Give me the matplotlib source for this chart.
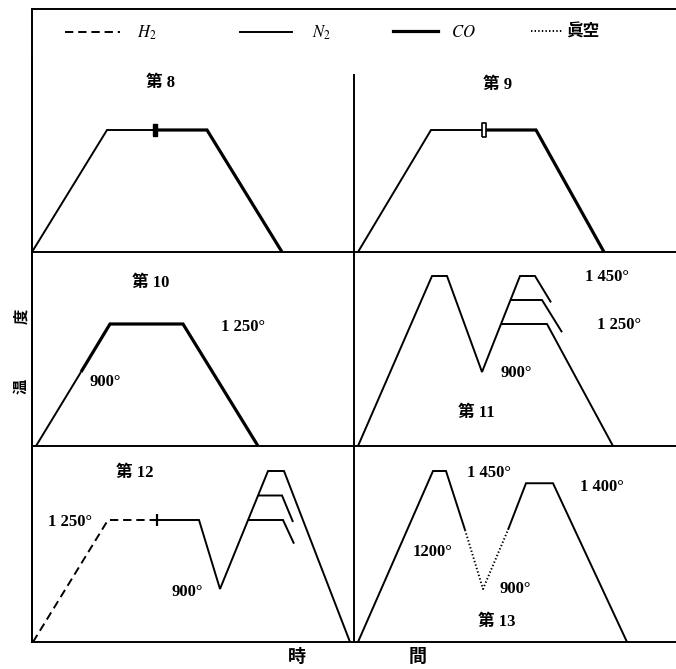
import numpy as np
import matplotlib
matplotlib.use("Agg")
import matplotlib.pyplot as plt
from matplotlib.lines import Line2D

plt.rcParams["font.family"] = ["Liberation Serif", "Noto Sans CJK JP"]
plt.rcParams["mathtext.fontset"] = "stix"
plt.rcParams["lines.scale_dashes"] = False

# heating schedules: time (arbitrary units) and temperature (deg C)
p8_n2_t = [0.0, 7.5, 12.3]
p8_n2_T = [20, 1250, 1250]
p8_co_t = [12.3, 17.5, 25.0]
p8_co_T = [1250, 1250, 20]

p9_n2_t = [0.4, 7.7, 13.0]
p9_n2_T = [20, 1250, 1250]
p9_co_t = [13.0, 18.2, 25.0]
p9_co_T = [1250, 1250, 20]

p10_n2_t = [0.4, 4.9]
p10_n2_T = [20, 900]
p10_co_t = [4.9, 7.8, 15.1, 22.6]
p10_co_T = [900, 1250, 1250, 20]

p11_main_t = [0.4, 7.8, 9.3, 12.8, 16.6, 18.1, 19.7]
p11_main_T = [20, 1450, 1450, 900, 1450, 1450, 1340]
p11_b1_t = [15.65, 18.8, 20.8]
p11_b1_T = [1350, 1350, 1190]
p11_b2_t = [14.7, 19.3, 25.9]
p11_b2_T = [1250, 1250, 20]

p12_h2_t = [0.1, 7.6, 12.5]
p12_h2_T = [20, 1250, 1250]
p12_n2_t = [12.5, 16.7, 18.8, 23.6, 25.2, 31.8]
p12_n2_T = [1250, 1250, 900, 1450, 1450, 20]
p12_b1_t = [22.6, 25.0, 26.1]
p12_b1_T = [1350, 1350, 1240]
p12_b2_t = [21.6, 25.1, 26.2]
p12_b2_T = [1250, 1250, 1130]

p13_a_t = [0.4, 7.9, 9.2, 11.1]
p13_a_T = [20, 1450, 1450, 1200]
p13_vac_t = [11.1, 12.9, 15.4]
p13_vac_T = [1200, 900, 1200]
p13_b_t = [15.4, 17.2, 19.9, 27.3]
p13_b_T = [1200, 1400, 1400, 20]

# schematic (non-linear) temperature axes
knots_T = [-1000, 20, 900, 1250, 1450, 2500]
knots_top = [-100, 0, 74, 122, 170, 422]
knots_bot = [-100, 0, 53, 122, 171, 428]

W, H = 676, 669
fig = plt.figure(figsize=(W / 100, H / 100), dpi=100)


def box(x0, y0, x1, y1):
    return [x0 / W, 1 - y1 / H, (x1 - x0) / W, (y1 - y0) / H]


def panel(x0, y0, x1, y1, knots_h):
    ax = fig.add_axes(box(x0, y0, x1, y1))
    fwd = lambda T: np.interp(T, knots_T, knots_h)
    inv = lambda h: np.interp(h, knots_h, knots_T)
    ax.set_yscale("function", functions=(fwd, inv))
    ax.set_xlim(0, (x1 - x0) / 10)
    ax.set_ylim(20, inv(y1 - y0))
    ax.set_xticks([])
    ax.set_yticks([])
    ax.yaxis.set_minor_locator(matplotlib.ticker.NullLocator())
    ax.patch.set_alpha(0)
    for s in ("top", "right"):
        ax.spines[s].set_visible(False)
    for s in ("left", "bottom"):
        ax.spines[s].set_linewidth(1.4)
    return ax, inv


thin, thick = 1.4, 2.3
dash = (0, (6, 3.5))
dot = (0, (1, 1.6))
kw = dict(color="black", clip_on=False, solid_joinstyle="miter", solid_capstyle="butt")

# outer frame
frame = fig.add_axes(box(32, 9, 690, 642))
frame.set_xticks([])
frame.set_yticks([])
frame.patch.set_alpha(0)
for s in ("right", "bottom"):
    frame.spines[s].set_visible(False)
for s in ("top", "left"):
    frame.spines[s].set_linewidth(1.4)

ax8, _ = panel(32, 58, 352, 252, knots_top)
ax9, inv9 = panel(354, 58, 684, 252, knots_top)
ax10, _ = panel(32, 252, 352, 446, knots_top)
ax11, _ = panel(354, 252, 684, 446, knots_top)
ax12, _ = panel(32, 446, 352, 642, knots_bot)
ax13, _ = panel(354, 446, 684, 642, knots_bot)
ax9.spines["left"].set_bounds(20, inv9(177))

bar = [(-1, -3), (1, -3), (1, 3), (-1, 3), (-1, -3)]

ax8.plot(p8_n2_t, p8_n2_T, lw=thin, **kw)
ax8.plot(p8_co_t, p8_co_T, lw=thick, **kw)
ax8.plot(p8_co_t[:1], p8_co_T[:1], marker=bar, ms=9, mfc="black", mec="black", mew=1, **kw)

ax9.plot(p9_n2_t, p9_n2_T, lw=thin, **kw)
ax9.plot(p9_co_t, p9_co_T, lw=thick, **kw)
ax9.plot(p9_co_t[:1], p9_co_T[:1], marker=bar, ms=10, mfc="white", mec="black", mew=1.2, **kw)

ax10.plot(p10_n2_t, p10_n2_T, lw=thin, **kw)
ax10.plot(p10_co_t, p10_co_T, lw=thick, **kw)

for t, T in ((p11_main_t, p11_main_T), (p11_b1_t, p11_b1_T), (p11_b2_t, p11_b2_T)):
    ax11.plot(t, T, lw=thin, **kw)

ax12.plot(p12_h2_t, p12_h2_T, lw=thin, ls=dash, color="black", clip_on=False)
for t, T in ((p12_n2_t, p12_n2_T), (p12_b1_t, p12_b1_T), (p12_b2_t, p12_b2_T)):
    ax12.plot(t, T, lw=thin, **kw)
ax12.plot(p12_n2_t[:1], p12_n2_T[:1], marker="|", ms=9, mew=1.6, **kw)

ax13.plot(p13_a_t, p13_a_T, lw=thin, **kw)
ax13.plot(p13_vac_t, p13_vac_T, lw=thin, ls=dot, color="black", clip_on=False)
ax13.plot(p13_b_t, p13_b_T, lw=thin, **kw)

# legend row
legend_items = [
    ("$H_2$", dict(ls=dash, lw=thin), 65, 3.3, 1.0),
    ("$N_2$", dict(ls="-", lw=thin), 240, 3.1, 1.25),
    ("$CO$", dict(ls="-", lw=thick), 393, 2.7, 0.8),
    ("眞空", dict(ls=dot, lw=thin), 531, 1.9, 0.2),
]
for label, style, x, hl, pad in legend_items:
    h = Line2D([], [], color="black", **style)
    fig.legend([h], [label], loc="center left", bbox_to_anchor=(x / W, 1 - 33 / H),
               frameon=False, borderpad=0, borderaxespad=0, handlelength=hl,
               handletextpad=pad, prop=dict(size=12, weight="bold"))


def label(px, py, s, size=12, **extra):
    fig.text(px / W, 1 - py / H, s, ha="center", va="center", fontsize=size,
             fontweight="bold", **extra)


label(160, 83, "第 8")
label(498, 85, "第 9")
label(151, 283, "第 10")
label(243, 327, "1 250°")
label(105, 382, "900°")
label(607, 277, "1 450°")
label(619, 325, "1 250°")
label(516, 373, "900°")
label(476, 413, "第 11")
label(135, 473, "第 12")
label(70, 522, "1 250°")
label(187, 592, "900°")
label(489, 473, "1 450°")
label(602, 487, "1 400°")
label(433, 552, "1200°")
label(515, 589, "900°")
label(497, 622, "第 13")

# axis captions
label(297, 657, "時", size=13)
label(418, 657, "間", size=13)
label(22, 316, "度", size=11, rotation=90)
label(22, 386, "温", size=11, rotation=90)

fig.savefig("out.png", dpi=100)
